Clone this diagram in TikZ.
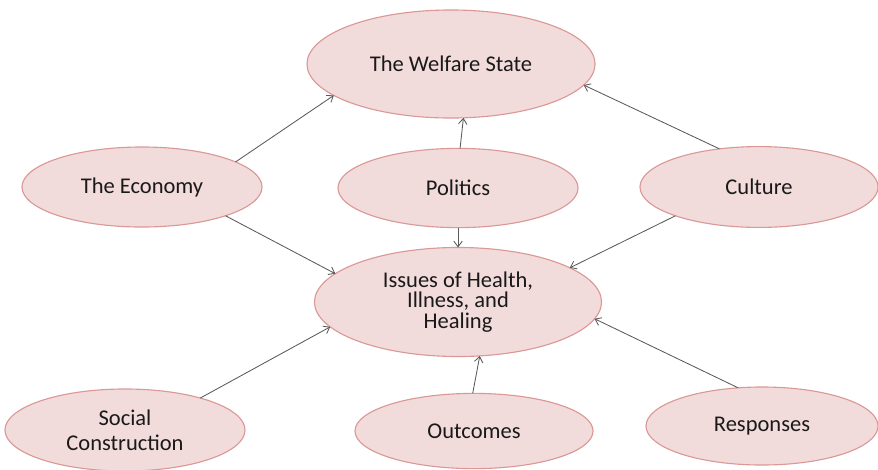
\documentclass[tikz,border=0pt]{standalone}
\usepackage{fontspec}
\setmainfont{Carlito}
\usetikzlibrary{shapes.geometric,arrows.meta}
\definecolor{bubblefill}{HTML}{F2DCDB}
\definecolor{bubbleline}{HTML}{DA9896}

\begin{document}
\begin{tikzpicture}[x=0.025cm, y=-0.025cm,
	bubble/.style={ellipse, draw=bubbleline, fill=bubblefill, line width=0.8pt,
		inner sep=0pt, outer sep=0pt, align=center, text=black!90,
		font=\fontsize{16}{18}\selectfont},
	link/.style={draw=black!65, line width=0.6pt, -{Straight Barb[length=4pt,width=6pt]}}]
			%%%%% START %%%%%
			\useasboundingbox (0, 0) rectangle (878, 469);
			
			\node[bubble, minimum width=7.2cm, minimum height=2.7cm] (wel) at (451, 64) {The Welfare State};
			
			\node[bubble, minimum width=6cm, minimum height=2cm] (eco) at (142, 187) {The Economy};
			\node[bubble, minimum width=6cm, minimum height=1.98cm] (pol) at (458, 188) {Politics};
			\node[bubble, minimum width=5.95cm, minimum height=2.02cm] (cul) at (759, 187) {Culture};
			
			\node[bubble, minimum width=7.175cm, minimum height=2.725cm,
				font=\fontsize{16}{14.5}\selectfont] (iss) at (458, 302) {Issues of Health,\\Illness, and\\Healing};
			
			\node[bubble, minimum width=6cm, minimum height=2.05cm] (soc) at (125, 430) {Social\\Construction};
			\node[bubble, minimum width=5.95cm, minimum height=1.88cm] (out) at (474, 431) {Outcomes};
			\node[bubble, minimum width=5.8cm, minimum height=1.95cm] (res) at (762, 426) {Responses};
			
			% into the welfare state
			\draw[link] (eco.15) -- (wel.195);
			\draw[link] (pol.87) -- (wel.283);
			\draw[link] (cul.136) -- (wel.351);
			
			% into health, illness and healing
			\draw[link] (eco.341) -- (iss.167);
			\draw[link] (pol.south) -- (iss.north);
			\draw[link] (cul.199) -- (iss.17);
			\draw[link] (soc.23) -- (iss.191);
			\draw[link] (out.92) -- (iss.292);
			\draw[link] (res.122) -- (iss.353);
			%%%%% END %%%%%
		\end{tikzpicture}
\end{document}
